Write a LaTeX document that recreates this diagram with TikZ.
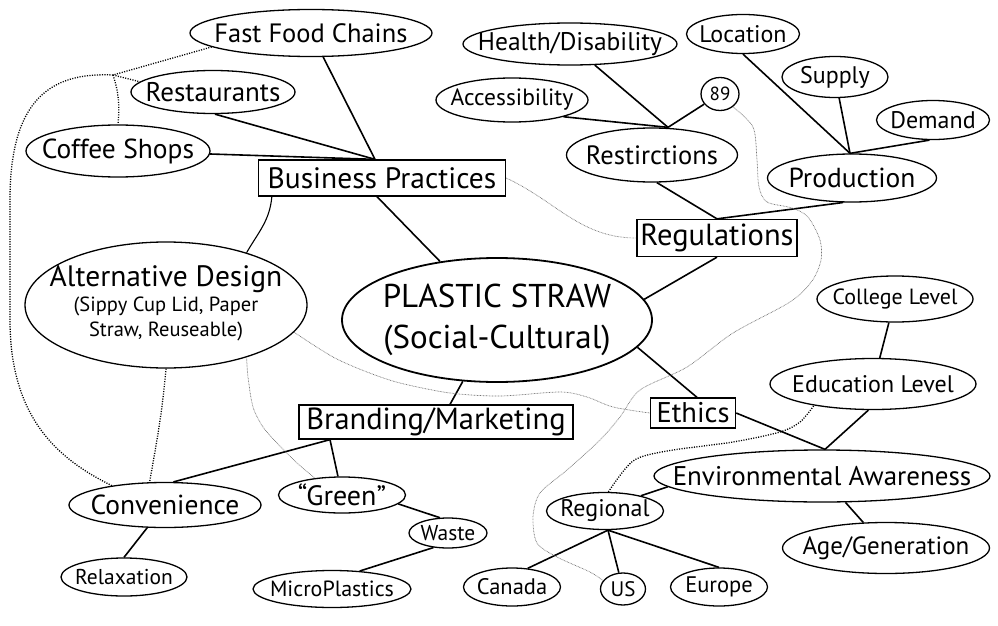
\documentclass[tikz,border=0pt]{standalone}
\usepackage{fontspec}
\setmainfont{PT Sans}
\usetikzlibrary{shapes.geometric}
\newcommand{\fsz}[1]{\fontsize{#1}{#1}\selectfont}

\begin{document}
\begin{tikzpicture}[x=1pt, y=-1pt,
  oval/.style={ellipse, draw, line width=1.3pt, inner sep=0pt,
    execute at begin node={\hbox to 0pt\bgroup\hss},
    execute at end node={\hss\egroup}},
  catbox/.style={rectangle, draw, line width=1.3pt, inner sep=0pt},
  link/.style={line width=1.6pt},
  tie/.style={line width=1.3pt, dash pattern=on 1.1pt off 1.4pt},
  faint/.style={black!55, line width=0.7pt, dash pattern=on 0.7pt off 0.8pt}
]
\useasboundingbox (0,0) rectangle (998,626);
\fill[white] (0,0) rectangle (998,626);
% centre
\node[oval, line width=1.8pt, minimum width=310, minimum height=124] (ps) at (497,320)
  {\fontsize{33}{41}\selectfont\begin{tabular}{@{}c@{}}PLASTIC STRAW\\(Social-Cultural)\end{tabular}};
% boxes
\node[catbox, minimum width=247, minimum height=36, font=\fsz{29.5}] (bp) at (382,178) {Business Practices};
\node[catbox, minimum width=160, minimum height=37, font=\fsz{30.5}] (reg) at (717,238) {Regulations};
\node[catbox, minimum width=85, minimum height=30, font=\fsz{28.5}] (eth) at (693,413) {Ethics};
\node[catbox, minimum width=274, minimum height=34, font=\fsz{30.5}] (br) at (436,422) {Branding/Marketing};
% business side
\node[oval, minimum width=242, minimum height=47, font=\fsz{26.5}] (ffc) at (311,33) {Fast Food Chains};
\node[oval, minimum width=164, minimum height=43, font=\fsz{27}] (rest) at (213,92) {Restaurants};
\node[oval, minimum width=184, minimum height=52, font=\fsz{27.5}] (cof) at (118,151) {Coffee Shops};
\node[oval, minimum width=282, minimum height=126] (alt) at (166,305)
  {\fontsize{20.5}{25}\selectfont\begin{tabular}{@{}c@{}}{\fsz{29.5}Alternative Design}\\(Sippy Cup Lid, Paper\\Straw, Reuseable)\end{tabular}};
% regulations side
\node[oval, minimum width=214, minimum height=42, font=\fsz{25.5}] (hd) at (570,44) {Health/Disability};
\node[oval, minimum width=152, minimum height=44, font=\fsz{23.5}] (acc) at (512,100) {Accessibility};
\node[oval, minimum width=38, minimum height=33, font=\fsz{19}] (n89) at (720,94) {89};
\node[oval, minimum width=171, minimum height=54, font=\fsz{26.5}] (rst) at (652,155) {Restirctions};
\node[oval, minimum width=113, minimum height=39, font=\fsz{24}] (loc) at (743,34) {Location};
\node[oval, minimum width=106, minimum height=41, font=\fsz{24}] (sup) at (835,77) {Supply};
\node[oval, minimum width=113, minimum height=39, font=\fsz{24}] (dem) at (933,120) {Demand};
\node[oval, minimum width=169, minimum height=48, font=\fsz{27.5}] (prod) at (852,178) {Production};
% ethics side
\node[oval, minimum width=156, minimum height=46, font=\fsz{22}] (col) at (895,299) {College Level};
\node[oval, minimum width=206, minimum height=51, font=\fsz{24}] (edu) at (873,384) {Education Level};
\node[oval, minimum width=336, minimum height=52, font=\fsz{27}] (ea) at (822,476) {Environmental Awareness};
\node[oval, minimum width=207, minimum height=51, font=\fsz{25}] (age) at (886,548) {Age/Generation};
\node[oval, minimum width=117, minimum height=37, font=\fsz{24}] (rgn) at (605,511) {Regional};
\node[oval, minimum width=97, minimum height=38, font=\fsz{22.5}] (can) at (512,587) {Canada};
\node[oval, minimum width=45, minimum height=32, font=\fsz{21}] (us) at (623,589) {US};
\node[oval, minimum width=97, minimum height=38, font=\fsz{22.5}] (eur) at (719,587) {Europe};
% branding side
\node[oval, minimum width=192, minimum height=45, font=\fsz{27.5}] (conv) at (165,505) {Convenience};
\node[oval, minimum width=126, minimum height=38, font=\fsz{21.5}] (rel) at (124,577) {Relaxation};
\node[oval, minimum width=127, minimum height=36, font=\fsz{28}] (grn) at (342,495) {“Green”};
\node[oval, minimum width=78, minimum height=30, font=\fsz{21.5}] (wst) at (448,533) {Waste};
\node[oval, minimum width=158, minimum height=37, font=\fsz{22}] (mp) at (332,589) {MicroPlastics};
% junctions
\coordinate (bpN) at ([xshift=-7]bp.north);
\coordinate (bpS) at ([xshift=-5]bp.south);
\coordinate (bpSW) at ([xshift=14]bp.south west);
\coordinate (rstN) at ([xshift=16]rst.north);
\coordinate (prodN) at ([xshift=-2]prod.north);
\coordinate (ethN) at ([xshift=4]eth.north);
\coordinate (eaN) at ([xshift=3]ea.north);
\coordinate (rgnS) at ([xshift=3]rgn.south);
\coordinate (brN) at ([xshift=14]br.north);
\coordinate (brS) at ([xshift=-106]br.south);
\coordinate (jn) at (113,75);
% solid links
\draw[link] (ffc) -- (bpN);
\draw[link] (rest.-85) -- (bpN);
\draw[link] (cof) -- (bpN);
\draw[link] (bpS) -- (ps);
\draw[line width=1.1pt] (bpSW) to[out=-95, in=60] (alt.33);
\draw[link] (hd) -- (rstN);
\draw[link] (acc.-18) -- (rstN);
\draw[link] (rstN) -- (n89);
\draw[link] (loc.south) -- (prodN);
\draw[link] (sup) -- (prodN);
\draw[link] (dem.-100) -- (prodN);
\draw[link] (reg.north) -- (rst.-80);
\draw[link] (reg.north) -- (prod.-110);
\draw[link] (reg.south) -- (ps.8);
\draw[link] (ps.-11) -- (ethN);
\draw[link] (eth.east) -- (eaN);
\draw[link] (edu.-100) -- (eaN);
\draw[link] (col) -- (edu);
\draw[link] (ea) -- (age);
\draw[link] (ea.-176) -- (rgn.23);
\draw[link] (rgnS) -- (can.50);
\draw[link] (rgnS) -- (us);
\draw[link] (rgnS) -- (eur.north);
\draw[link] (ps) -- (brN);
\draw[link] (brS) -- (conv.70);
\draw[link] (brS) -- (grn);
\draw[link] (conv) -- (rel.north);
\draw[link] (grn.-9) -- (wst.118);
\draw[link] (wst.-135) -- (mp.33);
% dotted ties
\draw[tie] (ffc.-172) -- (jn);
\draw[tie] (jn) -- (rest.172);
\draw[tie] (jn) to[out=-72, in=85] (cof.north);
\draw[tie] (jn) .. controls (50,72) and (10,100) .. (10,200) -- (10,320)
  .. controls (10,420) and (60,460) .. (conv.160);
\draw[tie] (alt.south) to[out=-95, in=80] (conv.124);
\draw[tie] plot[smooth] coordinates {(rgn.80) (633,461) (667,451) (733,442) (780,432) (800,422) (edu.-160)};
% faint ties
\draw[faint] (bp.east) to[out=-25, in=180] (reg.west);
\draw[faint] plot[smooth] coordinates {(n89.-45) (753,127) (757,160) (759,187) (767,202) (792,208) (808,217) (820,240) (821,260) (812,281) (790,302) (733,333) (687,367) (640,390) (620,417) (600,440) (567,470) (540,493) (533,517) (537,543) (557,557) (590,572) (us.157)};
\draw[faint] plot[smooth] coordinates {(alt.-12) (333,357) (367,372) (400,383) (450,393) (500,396) (560,392) (587,397) (613,407) (eth.west)};
\draw[faint] plot[smooth] coordinates {(alt.-33) (248,377) (253,407) (263,427) (277,443) (297,463) (grn.148)};
\end{tikzpicture}
\end{document}
